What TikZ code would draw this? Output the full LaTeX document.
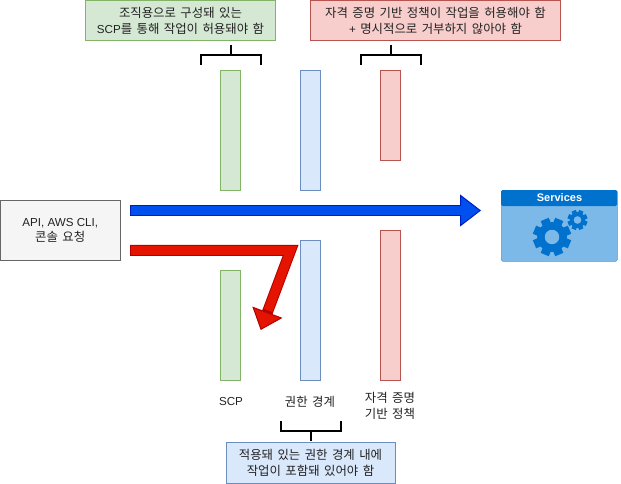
\documentclass[tikz,border=0pt]{standalone}
\usepackage{fontspec}
\setmainfont[WordSpace=1.6]{Noto Sans CJK KR}
\newfontfamily\lat{Liberation Sans}
\usetikzlibrary{arrows.meta}
\definecolor{gfill}{HTML}{D5E8D4}\definecolor{gline}{HTML}{82B366}
\definecolor{bfill}{HTML}{DAE8FC}\definecolor{bline}{HTML}{6C8EBF}
\definecolor{rfill}{HTML}{F8CECC}\definecolor{rline}{HTML}{B85450}
\definecolor{gyfill}{HTML}{F5F5F5}\definecolor{gyline}{HTML}{666666}
\definecolor{arB}{HTML}{0050EF}\definecolor{arBd}{HTML}{001DBC}
\definecolor{arR}{HTML}{E51400}\definecolor{arRd}{HTML}{B20000}
\definecolor{svcD}{HTML}{0072CE}\definecolor{svcL}{HTML}{7DB9E8}
\definecolor{txt}{HTML}{222222}
\newcommand{\ko}{\fontsize{12.4}{15.8}\selectfont}
\newcommand{\la}[1]{{\lat\fontsize{11.6}{15.8}\selectfont #1}}
\tikzset{
  x=1pt,y=-1pt,
  box/.style={draw,line width=0.9pt,anchor=north west,inner sep=0pt,outer sep=0pt,align=center,text=txt,font=\ko},
  gbox/.style={box,fill=gfill,draw=gline},
  bbox/.style={box,fill=bfill,draw=bline},
  rbox/.style={box,fill=rfill,draw=rline},
  gybox/.style={box,fill=gyfill,draw=gyline},
  lbl/.style={align=center,inner sep=0pt,text=txt,font=\ko},
  brk/.style={draw=black,line width=2pt},
  gear/.style={fill=svcD,draw=none},
}
\newcommand{\boxat}[7]{\node[#1,minimum width=#4-#2,minimum height=#5-#3] (#6) at (#2,#3) {#7};}
\newcommand{\gearat}[3]{%
  \foreach \a in {0,45,...,315}{\fill[gear,rotate around={\a+22.5:(#1,#2)}] (#1-#3*0.23,#2-#3) rectangle (#1+#3*0.23,#2);}
  \fill[gear] (#1,#2) circle[radius=#3*0.78];
  \fill[svcL] (#1,#2) circle[radius=#3*0.38];
}
\begin{document}
\begin{tikzpicture}
\useasboundingbox (0,0) rectangle (621,484);
\boxat{gbox}{85.5}{0.5}{275.5}{40.5}{scpnote}{조직용으로 구성돼 있는\\\la{SCP}를 통해 작업이 허용돼야 함}
\boxat{rbox}{310.5}{0.5}{560.5}{40.5}{idnote}{자격 증명 기반 정책이 작업을 허용해야 함\\\la{+} 명시적으로 거부하지 않아야 함}
\boxat{bbox}{226}{442.5}{395}{483}{pbnote}{적용돼 있는 권한 경계 내에\\작업이 포함돼 있어야 함}
\boxat{gybox}{0}{200.5}{120.5}{260.5}{req}{\la{API, AWS CLI,}\\콘솔 요청}
% bars
\boxat{gbox}{220.5}{70.5}{240.5}{190.5}{g1}{}
\boxat{bbox}{300.5}{70.5}{320.5}{190.5}{b1}{}
\boxat{rbox}{380.5}{70.5}{400.5}{160.5}{r1}{}
\boxat{gbox}{220.5}{270.5}{240.5}{380.5}{g2}{}
\boxat{bbox}{300.5}{240.5}{320.5}{380.5}{b2}{}
\boxat{rbox}{380.5}{230.5}{400.5}{380.5}{r2}{}
% labels
\node[lbl] (lscp) at (231,402) {\la{SCP}};
\node[lbl] (lpb) at (310,402) {권한 경계};
\node[lbl] (lid) at (390,406) {자격 증명\\기반 정책};
% services
\node[draw=svcL!80!black,line width=0.5pt,fill=svcL,rounded corners=1.5pt,anchor=north west,inner sep=0pt,minimum width=116,minimum height=71] (svc) at (501,190) {};
\fill[svcD,rounded corners=1.5pt] (501,190) rectangle (617,206);
\node[inner sep=0pt,text=white,font=\lat\bfseries\fontsize{11}{13}\selectfont] (svct) at (559.5,198) {Services};
\gearat{552}{237}{19}
\gearat{577.5}{220}{10}
% brackets
\coordinate (bl1) at (200.5,65); \coordinate (bl2) at (260.5,65); \coordinate (bls) at (230.5,45);
\coordinate (br1) at (360.5,65); \coordinate (br2) at (420.5,65); \coordinate (brs) at (390.5,45);
\coordinate (bb1) at (280.5,421); \coordinate (bb2) at (340.5,421); \coordinate (bbs) at (310.5,441);
\draw[brk] (bl1) -- (200.5,55.5) -- (260.5,55.5) -- (bl2) (bls) -- (230.5,55.5);
\draw[brk] (br1) -- (360.5,55.5) -- (420.5,55.5) -- (br2) (brs) -- (390.5,55.5);
\draw[brk] (bb1) -- (280.5,431) -- (340.5,431) -- (bb2) (bbs) -- (310.5,431);
% arrows
\coordinate (aS) at (130,210.5); \coordinate (aE) at (481,210.5); \coordinate (aM) at (462,210.5);
\coordinate (rS) at (130,250.4); \coordinate (rB) at (290.6,250.4); \coordinate (rE) at (260.7,330); \coordinate (rM) at (268,310.5);
\draw[line width=11pt,arBd,-{Triangle[length=21pt,width=32pt,line width=1pt,fill=arB]}] (aS) -- (aE);
\draw[line width=9pt,arB] ([xshift=1pt]aS) -- (aM);
\draw[line width=11pt,arRd,miter limit=10,-{Triangle[length=19pt,width=32pt,line width=1pt,fill=arR]}] (rS) -- (rB) -- (rE);
\draw[line width=9pt,arR,miter limit=10] ([xshift=1pt]rS) -- (rB) -- (rM);
\end{tikzpicture}
\end{document}
